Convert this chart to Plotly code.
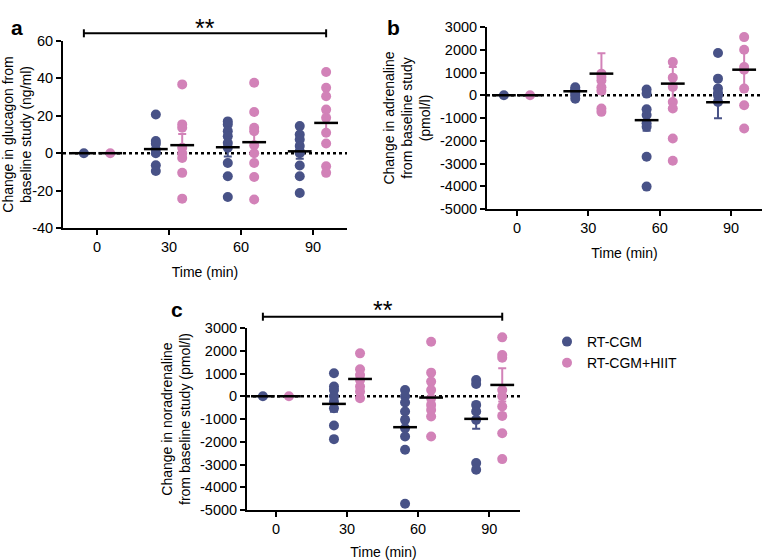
import plotly.graph_objects as go

# ---------------- data ----------------
times = [0, 30, 60, 90]
tick_labels = ["0", "30", "60", "90"]
groups = ["RT-CGM", "RT-CGM+HIIT"]

gluc_ticks = [-40, -20, 0, 20, 40, 60]
gluc_tick_labels = ["-40", "-20", "0", "20", "40", "60"]
cat_ticks = [-5000, -4000, -3000, -2000, -1000, 0, 1000, 2000, 3000]
cat_tick_labels = ["-5000", "-4000", "-3000", "-2000", "-1000", "0", "1000", "2000", "3000"]

# Panel a: glucagon (ng/ml)
gluc_cgm = [[0], [20.7, 6.5, 5, 2, 0, -6.5, -9.5], [17, 15.4, 11.8, 9, 5.5, 2.9, -5.2, -12.3, -23.4],
            [14.5, 10, 7.3, 3.8, 1, 0, -6.6, -12.3, -21.3]]
gluc_hiit = [[0], [36.8, 15.4, 13.6, 2.9, 0, -2.5, -10.5, -24.3], [37.7, 22, 13.6, 11.8, 4.3, 0, -5.2, -12.7, -24.8],
             [43.4, 35, 30.5, 23.4, 18.9, 10.9, 5.2, -7, -10.5]]
gluc_cgm_mean = [0, 2.2, 3.2, 1.0]
gluc_cgm_sem = [0, 3, 5, 4]
gluc_hiit_mean = [0, 4.3, 5.9, 16.2]
gluc_hiit_sem = [0, 6, 6.5, 5.5]

# Panel b: adrenaline (pmol/l)
adr_cgm = [[0], [350, 250, 200, 100, 0, -150], [250, 73, -620, -870, -1230, -1390, -2700, -4015],
           [1854, 730, 292, 100, 0, -292]]
adr_hiit = [[0], [950, 800, 650, 350, 200, -580, -730], [1460, 774, 365, -300, -584, -1898, -2880],
            [2555, 2000, 1240, 1124, 292, -438, -1460]]
adr_cgm_mean = [0, 175, -1095, -307]
adr_cgm_sem = [0, 100, 470, 700]
adr_hiit_mean = [0, 950, 511, 1124]
adr_hiit_sem = [0, 900, 730, 850]

# Panel c: noradrenaline (pmol/l)
nor_cgm = [[0], [1009, 424, 278, 0, -234, -526, -1287, -1886],
           [278, 0, -278, -672, -1038, -1404, -1769, -2354, -4722],
           [716, 541, -380, -672, -1038, -2939, -3231]]
nor_hiit = [[0], [1886, 1184, 936, 716, 424, 205, -88],
            [2398, 1038, 643, 278, -88, -380, -600, -892, -1769],
            [2588, 1813, 1696, 278, 0, -453, -863, -1623, -2763]]
nor_cgm_mean = [0, -336, -1360, -994]
nor_cgm_sem = [0, 350, 440, 440]
nor_hiit_mean = [0, 760, -58, 497]
nor_hiit_sem = [0, 280, 410, 730]

# ---------------- style ----------------
BLUE = "#485287"
PINK = "#d282b8"
FONT = "Arial, Liberation Sans, sans-serif"
W, H = 762, 560
OFF = 5.5
TICKFS = 14.5
TITLEFS = 14

def px_x(p):
    return p / W

def px_y(p):
    return 1 - p / H

fig = go.Figure()

panels = [
    ("x", "y", gluc_cgm, gluc_hiit, gluc_cgm_mean, gluc_cgm_sem, gluc_hiit_mean, gluc_hiit_sem, True),
    ("x2", "y2", adr_cgm, adr_hiit, adr_cgm_mean, adr_cgm_sem, adr_hiit_mean, adr_hiit_sem, False),
    ("x3", "y3", nor_cgm, nor_hiit, nor_cgm_mean, nor_cgm_sem, nor_hiit_mean, nor_hiit_sem, False),
]

for xa, ya, cgm, hiit, cm, cs, hm, hs, show in panels:
    for name, vals, mean, sem, col, off in [
        (groups[0], cgm, cm, cs, BLUE, -OFF),
        (groups[1], hiit, hm, hs, PINK, OFF),
    ]:
        xs, ys = [], []
        for t, v in zip(times, vals):
            xs += [t + off] * len(v)
            ys += v
        fig.add_trace(go.Scatter(
            x=xs, y=ys, mode="markers", name=name, showlegend=show, legendgroup=name,
            marker=dict(color=col, size=10, line=dict(width=0)),
            xaxis=xa, yaxis=ya, hoverinfo="skip"))
        mx = [t + off for t in times]
        fig.add_trace(go.Scatter(
            x=mx, y=mean, mode="markers", showlegend=False,
            marker=dict(size=1, color="rgba(0,0,0,0)"),
            error_y=dict(type="data", array=sem, visible=True, color=col, thickness=2, width=4),
            xaxis=xa, yaxis=ya, hoverinfo="skip"))
        fig.add_trace(go.Scatter(
            x=mx, y=mean, mode="markers", showlegend=False,
            marker=dict(symbol="line-ew", size=17, line=dict(width=2.5, color="black")),
            xaxis=xa, yaxis=ya, hoverinfo="skip"))

axis_common = dict(showline=True, linecolor="black", linewidth=2, ticks="outside", ticklen=5,
                   tickwidth=2, tickcolor="black", showgrid=False, zeroline=False, automargin=False,
                   tickfont=dict(family=FONT, size=TICKFS, color="black"))
title_font = dict(family=FONT, size=TITLEFS, color="black")
xcommon = dict(axis_common, tickvals=times, ticktext=tick_labels,
               title=dict(text="Time (min)", font=title_font, standoff=13))

fig.update_layout(
    width=W, height=H, margin=dict(l=0, r=0, t=0, b=0, autoexpand=False),
    plot_bgcolor="white", paper_bgcolor="white",
    font=dict(family=FONT, size=TITLEFS, color="black"),
    xaxis=dict(xcommon, domain=[px_x(63), px_x(347)], range=[-14.2, 104.2], anchor="y"),
    yaxis=dict(axis_common, domain=[px_y(228), px_y(41)], range=[-40, 60],
               tickvals=gluc_ticks, ticktext=gluc_tick_labels, anchor="x",
               title=dict(text="Change in glucagon from<br>baseline study (ng/ml)", standoff=6, font=title_font)),
    xaxis2=dict(xcommon, domain=[px_x(487), 1.0], range=[-12.6, 103], anchor="y2"),
    yaxis2=dict(axis_common, domain=[px_y(209), px_y(27)], range=[-5000, 3000],
                tickvals=cat_ticks, ticktext=cat_tick_labels, anchor="x2",
                title=dict(text="Change in adrenaline<br>from baseline study<br>(pmol/l)", standoff=6,
                           font=title_font)),
    xaxis3=dict(xcommon, domain=[px_x(247), px_x(520)], range=[-12.2, 103], anchor="y3"),
    yaxis3=dict(axis_common, domain=[px_y(510), px_y(328)], range=[-5000, 3000],
                tickvals=cat_ticks, ticktext=cat_tick_labels, anchor="x3",
                title=dict(text="Change in noradrenaline<br>from baseline study (pmol/l)", standoff=6,
                           font=title_font)),
    legend=dict(x=px_x(547), y=px_y(326), xanchor="left", yanchor="top",
                font=dict(family=FONT, size=TITLEFS, color="black"), itemwidth=30,
                bgcolor="rgba(0,0,0,0)", tracegroupgap=0),
)

shapes = []
for xa, ya in [("x", "y"), ("x2", "y2"), ("x3", "y3")]:
    shapes.append(dict(type="line", xref=f"{xa} domain", yref=ya, x0=0, x1=1, y0=0, y1=0,
                       line=dict(color="black", width=2.5, dash="3px,3px"), layer="below"))

# significance brackets (panel a and c)
for xa, ypix in [("x", 33.3), ("x3", 316.7)]:
    yb = px_y(ypix)
    shapes.append(dict(type="line", xref=xa, yref="paper", x0=times[0] - OFF, x1=times[-1] + OFF,
                       y0=yb, y1=yb, line=dict(color="black", width=2)))
    for xe in [times[0] - OFF, times[-1] + OFF]:
        shapes.append(dict(type="line", xref=xa, yref="paper", x0=xe, x1=xe,
                           y0=yb - 4 / H, y1=yb + 4 / H, line=dict(color="black", width=2)))
fig.update_layout(shapes=shapes)

annotations = [
    dict(text="**", xref="x", yref="paper", x=45, y=px_y(44), yanchor="bottom", showarrow=False,
         font=dict(family=FONT, size=25, color="black")),
    dict(text="**", xref="x3", yref="paper", x=45, y=px_y(326), yanchor="bottom", showarrow=False,
         font=dict(family=FONT, size=25, color="black")),
    dict(text="<b>a</b>", xref="paper", yref="paper", x=px_x(9), y=px_y(14), showarrow=False,
         font=dict(family=FONT, size=21, color="black")),
    dict(text="<b>b</b>", xref="paper", yref="paper", x=px_x(393), y=px_y(14), showarrow=False,
         font=dict(family=FONT, size=21, color="black")),
    dict(text="<b>c</b>", xref="paper", yref="paper", x=px_x(169), y=px_y(309), showarrow=False,
         font=dict(family=FONT, size=21, color="black")),
]
fig.update_layout(annotations=annotations)

fig.write_html("out.html", config={"displayModeBar": False},
               post_script="document.body.style.margin='0';document.body.style.overflow='hidden';")
